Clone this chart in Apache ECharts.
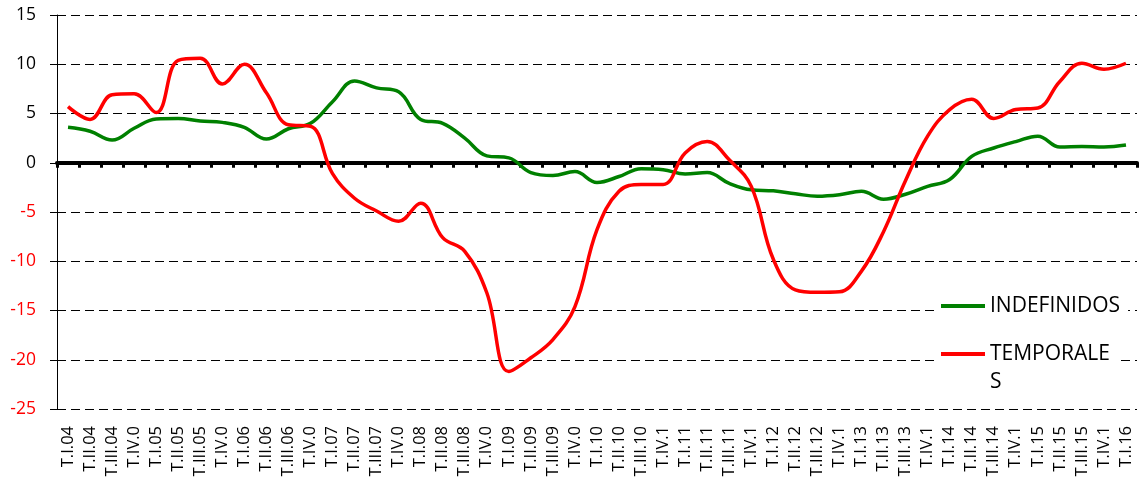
<!DOCTYPE html>
<html>
<head>
<meta charset="utf-8">
<script src="https://cdn.jsdelivr.net/npm/echarts@6/dist/echarts.min.js"></script>
<style>
  html, body { margin: 0; padding: 0; background: #fff; }
  #main { width: 1139px; height: 488px; }
</style>
</head>
<body>
<div id="main"></div>
<script>
// etiquetas trimestrales (tal como aparecen, algunas recortadas)
var quarters = [
  'T.I.04', 'T.II.04', 'T.III.04', 'T.IV.0',
  'T.I.05', 'T.II.05', 'T.III.05', 'T.IV.0',
  'T.I.06', 'T.II.06', 'T.III.06', 'T.IV.0',
  'T.I.07', 'T.II.07', 'T.III.07', 'T.IV.0',
  'T.I.08', 'T.II.08', 'T.III.08', 'T.IV.0',
  'T.I.09', 'T.II.09', 'T.III.09', 'T.IV.0',
  'T.I.10', 'T.II.10', 'T.III.10', 'T.IV.1',
  'T.I.11', 'T.II.11', 'T.III.11', 'T.IV.1',
  'T.I.12', 'T.II.12', 'T.III.12', 'T.IV.1',
  'T.I.13', 'T.II.13', 'T.III.13', 'T.IV.1',
  'T.I.14', 'T.II.14', 'T.III.14', 'T.IV.1',
  'T.I.15', 'T.II.15', 'T.III.15', 'T.IV.1',
  'T.I.16'
];

var indefinidos = [
  3.6, 3.2, 2.3, 3.5, 4.45, 4.5, 4.25, 4.1, 3.6, 2.4, 3.45, 4.0,
  6.2, 8.3, 7.6, 7.2, 4.4, 4.0, 2.5, 0.7, 0.5, -1.0, -1.3, -0.9,
  -2.0, -1.4, -0.6, -0.7, -1.15, -1.0, -2.1, -2.75, -2.85, -3.15, -3.4, -3.25,
  -2.9, -3.7, -3.2, -2.4, -1.7, 0.65, 1.5, 2.15, 2.7, 1.6, 1.65, 1.6,
  1.8
];

var temporales = [
  5.7, 4.4, 6.9, 7.0, 5.1, 10.4, 10.6, 8.0, 10.0, 7.1, 3.85, 3.7,
  -1.1, -3.6, -4.9, -5.95, -4.1, -7.6, -9.0, -13.2, -21.2, -19.8, -17.95, -14.6,
  -6.8, -2.9, -2.2, -2.2, 1.0, 2.15, 0.3, -2.4, -9.8, -12.9, -13.15, -13.1,
  -11.0, -7.0, -1.8, 2.7, 5.4, 6.45, 4.5, 5.4, 5.55, 8.25, 10.1, 9.5,
  10.1
];

var yTicks = { min: -25, max: 15, step: 5 };

var chart = echarts.init(document.getElementById('main'));
var font = "'Open Sans', sans-serif";

var legendBase = {
  orient: 'vertical',
  left: 935,
  padding: [0, 8, 0, 6],
  backgroundColor: '#fff',
  icon: 'rect',
  itemWidth: 44,
  itemHeight: 4,
  itemGap: 0,
  selectedMode: false,
  textStyle: { fontFamily: font, fontSize: 21, color: '#000', lineHeight: 28 }
};

chart.setOption({
  animation: false,
  backgroundColor: '#fff',
  grid: { left: 57, right: 2, top: 15, bottom: 79 },
  legend: [
    Object.assign({}, legendBase, { top: 292, data: ['INDEFINIDOS'] }),
    Object.assign({}, legendBase, {
      top: 312,
      data: ['TEMPORALES'],
      // el texto se parte en dos lineas como en el original
      formatter: function () { return ' \nTEMPORALE\nS'; }
    })
  ],
  xAxis: [
    {
      // etiquetas abajo
      type: 'category',
      data: quarters,
      position: 'bottom',
      axisLine: { show: false, onZero: false },
      axisTick: { show: false },
      splitLine: { show: false },
      axisLabel: {
        interval: 0, rotate: 90, margin: 17,
        fontFamily: font, fontSize: 16.5, color: '#000'
      }
    },
    {
      // linea del cero con marcas
      type: 'category',
      data: quarters,
      position: 'bottom',
      axisLine: { show: true, onZero: true, lineStyle: { color: '#000', width: 4 } },
      axisTick: { show: true, interval: 0, length: 5, lineStyle: { color: '#000', width: 3 } },
      axisLabel: { show: false },
      splitLine: { show: false }
    }
  ],
  yAxis: {
    type: 'value',
    min: yTicks.min,
    max: yTicks.max,
    interval: yTicks.step,
    axisLine: { show: true, lineStyle: { color: '#000', width: 1 } },
    axisTick: { show: true, length: 7, lineStyle: { color: '#000', width: 1 } },
    splitLine: { show: true, lineStyle: { color: '#000', width: 1, type: [9, 5] } },
    axisLabel: {
      margin: 21,
      fontFamily: font,
      fontSize: 17.5,
      color: function (val) { return Number(val) < 0 ? '#ff0000' : '#000'; }
    }
  },
  series: [
    {
      name: 'INDEFINIDOS',
      type: 'line',
      xAxisIndex: 0,
      data: indefinidos,
      smooth: 0.4,
      symbol: 'none',
      itemStyle: { color: '#008000' },
      lineStyle: { color: '#008000', width: 3.5 }
    },
    {
      name: 'TEMPORALES',
      type: 'line',
      xAxisIndex: 0,
      data: temporales,
      smooth: 0.4,
      symbol: 'none',
      itemStyle: { color: '#ff0000' },
      lineStyle: { color: '#ff0000', width: 3.5 }
    }
  ]
});
</script>
</body>
</html>
